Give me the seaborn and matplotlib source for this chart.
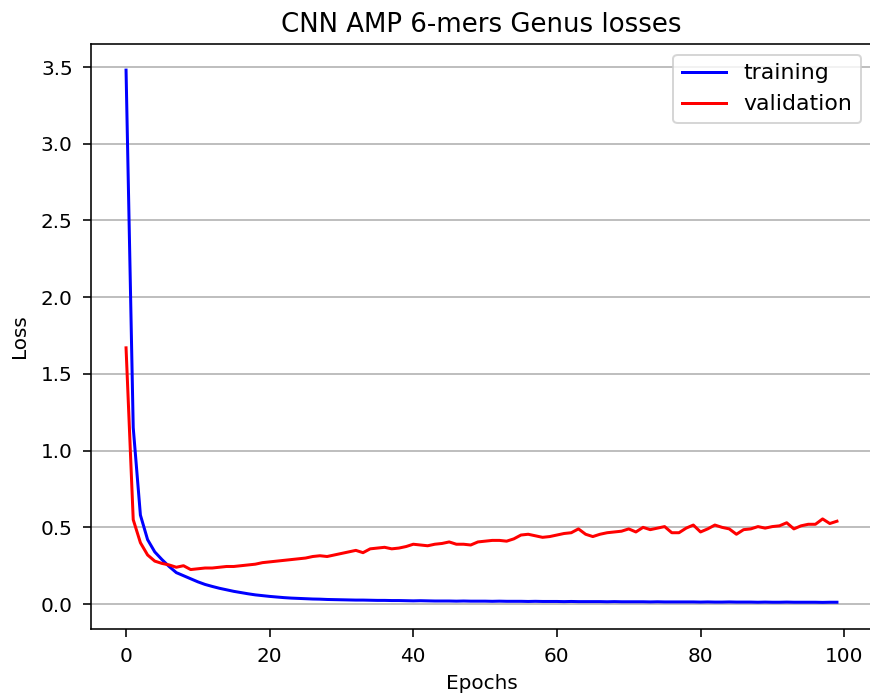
import numpy as np
import pandas as pd
import matplotlib
matplotlib.use("Agg")
import matplotlib.pyplot as plt
import seaborn as sns

epochs = list(range(100))

training = [
    3.48, 1.15, 0.58, 0.42, 0.34, 0.29, 0.245, 0.205, 0.185, 0.165,
    0.145, 0.128, 0.115, 0.103, 0.093, 0.083, 0.075, 0.067, 0.060, 0.055,
    0.050, 0.046, 0.042, 0.039, 0.037, 0.035, 0.033, 0.032, 0.030, 0.029,
    0.028, 0.027, 0.026, 0.026, 0.025, 0.024, 0.024, 0.023, 0.023, 0.022,
    0.021, 0.022, 0.021, 0.020, 0.020, 0.020, 0.019, 0.020, 0.019, 0.019,
    0.019, 0.018, 0.019, 0.018, 0.018, 0.018, 0.017, 0.018, 0.017, 0.017,
    0.017, 0.016, 0.017, 0.016, 0.016, 0.016, 0.016, 0.015, 0.016, 0.015,
    0.015, 0.015, 0.015, 0.014, 0.015, 0.014, 0.014, 0.014, 0.014, 0.014,
    0.013, 0.014, 0.013, 0.013, 0.014, 0.013, 0.013, 0.013, 0.012, 0.013,
    0.012, 0.012, 0.013, 0.012, 0.012, 0.012, 0.012, 0.011, 0.012, 0.012,
]

validation = [
    1.67, 0.55, 0.40, 0.32, 0.28, 0.265, 0.255, 0.24, 0.25, 0.225,
    0.23, 0.235, 0.235, 0.24, 0.245, 0.245, 0.25, 0.255, 0.26, 0.27,
    0.275, 0.28, 0.285, 0.29, 0.295, 0.30, 0.31, 0.315, 0.31, 0.32,
    0.33, 0.34, 0.35, 0.335, 0.36, 0.365, 0.37, 0.36, 0.365, 0.375,
    0.39, 0.385, 0.38, 0.39, 0.395, 0.405, 0.39, 0.39, 0.385, 0.405,
    0.41, 0.415, 0.415, 0.41, 0.425, 0.45, 0.455, 0.445, 0.435, 0.44,
    0.45, 0.46, 0.465, 0.49, 0.455, 0.44, 0.455, 0.465, 0.47, 0.475,
    0.49, 0.47, 0.50, 0.485, 0.495, 0.505, 0.465, 0.465, 0.495, 0.515,
    0.47, 0.49, 0.515, 0.50, 0.49, 0.455, 0.485, 0.49, 0.505, 0.495,
    0.505, 0.51, 0.53, 0.49, 0.51, 0.52, 0.52, 0.555, 0.525, 0.54,
]

title = "CNN AMP 6-mers Genus losses"
xlabel = "Epochs"
ylabel = "Loss"
xticks = [0, 20, 40, 60, 80, 100]
yticks = [0.0, 0.5, 1.0, 1.5, 2.0, 2.5, 3.0, 3.5]

plt.rcParams.update(plt.rcParamsDefault)
matplotlib.use("Agg")
plt.rcParams["font.family"] = ["DejaVu Sans"]

dpi = 144
fig = plt.figure(figsize=(870 / dpi, 695 / dpi), dpi=dpi)
ax = fig.add_axes([90.5 / 870, 66.0 / 695, 782.0 / 870, 585.5 / 695])

df = pd.DataFrame({"epoch": epochs, "training": training, "validation": validation})
sns.lineplot(data=df, x="epoch", y="training", color="blue", label="training", ax=ax, linewidth=1.5)
sns.lineplot(data=df, x="epoch", y="validation", color="red", label="validation", ax=ax, linewidth=1.5)

ax.set_xticks(xticks)
ax.set_yticks(yticks)
ax.tick_params(axis="both", length=4, pad=4.9, labelsize=10)
ax.set_title(title, fontsize=13, pad=6)
ax.set_xlabel(xlabel, fontsize=10, labelpad=4)
ax.set_ylabel(ylabel, fontsize=10, labelpad=6)
ax.grid(axis="y")
ax.spines["right"].set_visible(False)
ax.legend(loc="upper right", fontsize=11)

fig.savefig("out.png", dpi=dpi)
